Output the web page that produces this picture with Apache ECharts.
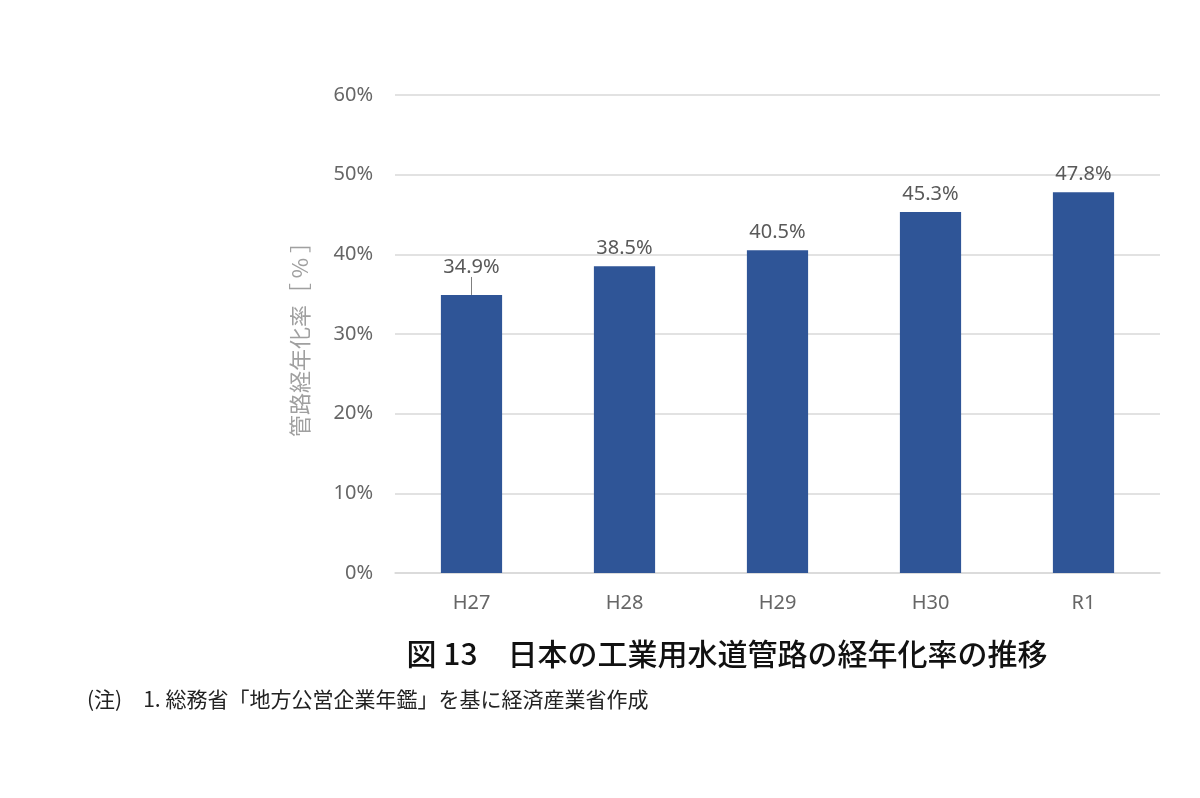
<!DOCTYPE html>
<html lang="ja">
<head>
    <meta charset="UTF-8" />
    <title>日本の工業用水道管路の経年化率の推移</title>
    <script src="https://cdn.jsdelivr.net/npm/echarts@6/dist/echarts.min.js"></script>
    <style>
        html, body { margin: 0; padding: 0; background: #fff; }
    </style>
</head>
<body>
    <div id="chart" style="width:1200px;height:798px;"></div>
    <script type="text/javascript">
        var categories = ['H27', 'H28', 'H29', 'H30', 'R1'];
        var rates = [34.9, 38.5, 40.5, 45.3, 47.8]; // 経年化率 %
        var yTicks = [0, 10, 20, 30, 40, 50, 60];

        // H27 だけラベルを上にずらして引き出し線を付ける
        var barData = rates.map(function (v, i) {
            if (i === 0) {
                return { value: v, labelLine: { show: true } };
            }
            return v;
        });

        var chart = echarts.init(document.getElementById('chart'));
        var option = {
            backgroundColor: '#fff',
            animation: false,
            title: [{
                text: '図 13　日本の工業用水道管路の経年化率の推移',
                left: 722,
                top: 634,
                textAlign: 'center',
                textStyle: {
                    color: '#111',
                    fontFamily: 'Noto Sans CJK JP',
                    fontSize: 30,
                    fontWeight: 500
                }
            }, {
                text: '(注)　1. 総務省「地方公営企業年鑑」を基に経済産業省作成',
                left: 82,
                top: 684,
                textStyle: {
                    color: '#222',
                    fontFamily: 'Noto Sans CJK JP',
                    fontSize: 21,
                    fontWeight: 'normal'
                }
            }],
            grid: {
                left: 395,
                right: 40,
                top: 95,
                bottom: 225
            },
            xAxis: {
                type: 'category',
                data: categories,
                axisTick: { show: false },
                axisLine: { lineStyle: { color: '#d9d9d9', width: 1.5 } },
                axisLabel: {
                    color: '#666',
                    fontSize: 20,
                    margin: 20,
                    fontFamily: 'Noto Sans'
                }
            },
            yAxis: {
                type: 'value',
                min: yTicks[0],
                max: yTicks[yTicks.length - 1],
                interval: 10,
                name: '管路経年化率［ % ］',
                nameLocation: 'middle',
                nameGap: 84,
                nameTextStyle: {
                    color: '#a0a0a0',
                    fontSize: 22,
                    fontFamily: 'Noto Sans CJK JP'
                },
                axisLine: { show: false },
                axisTick: { show: false },
                splitLine: { lineStyle: { color: '#d9d9d9', width: 1.5 } },
                axisLabel: {
                    color: '#666',
                    fontSize: 20,
                    margin: 22,
                    fontFamily: 'Noto Sans',
                    formatter: '{value}%'
                }
            },
            series: [{
                type: 'bar',
                data: barData,
                barWidth: '40%',
                itemStyle: { color: '#2f5597' },
                label: {
                    show: true,
                    position: 'top',
                    distance: 8,
                    color: '#595959',
                    fontSize: 20,
                    fontFamily: 'Noto Sans',
                    formatter: '{c}%'
                },
                labelLine: {
                    show: false,
                    length2: 0,
                    lineStyle: { color: '#7f7f7f', width: 1 }
                },
                labelLayout: function (params) {
                    if (params.dataIndex === 0) {
                        return { dy: -10 };
                    }
                    return {};
                }
            }]
        };

        chart.setOption(option, true);
    </script>
</body>
</html>
